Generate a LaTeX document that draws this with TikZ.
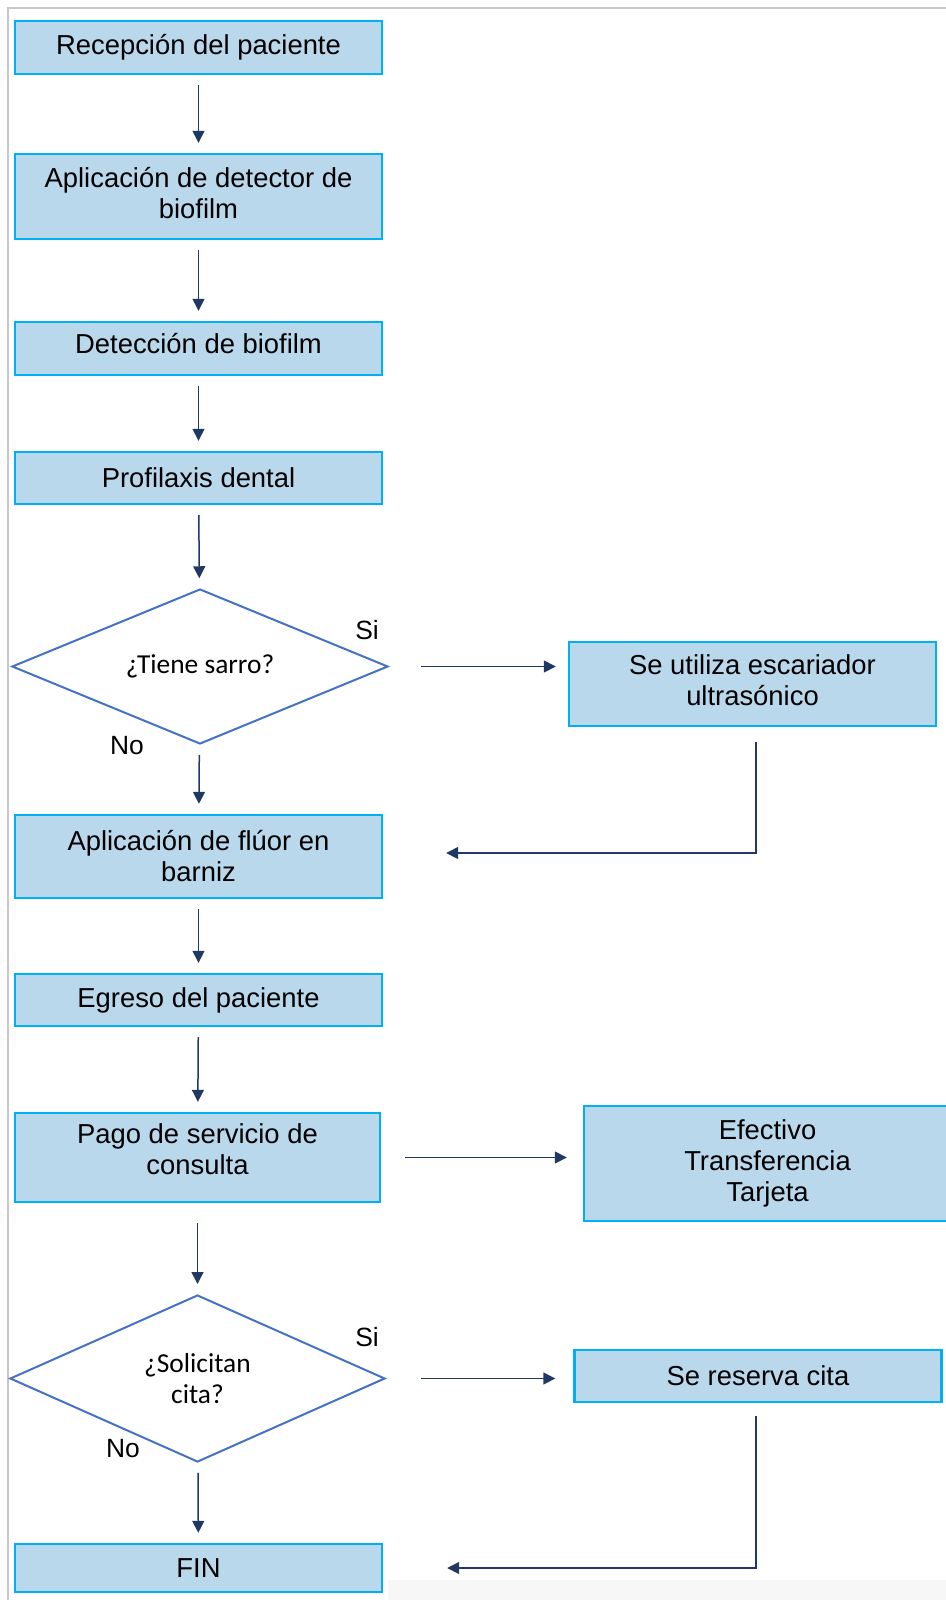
\documentclass[tikz,border=0pt]{standalone}
\usepackage{fontspec}
\setmainfont{Liberation Sans}
\newfontfamily\calibri{Carlito}
\usetikzlibrary{shapes.geometric,arrows.meta}

\definecolor{cajafondo}{RGB}{186,216,236}
\definecolor{cajaborde}{RGB}{0,176,240}
\definecolor{rombo}{RGB}{68,114,196}
\definecolor{azulflecha}{RGB}{31,56,100}
\definecolor{marco}{RGB}{200,200,200}

\begin{document}
\begin{tikzpicture}[x=0.5pt, y=-0.5pt,
    caja/.style={rectangle, fill=cajafondo, draw=cajaborde, line width=1.2pt,
      minimum width=183.5pt, inner sep=0pt, align=center,
      font=\fontsize{13.7}{15.5}\selectfont},
    decision/.style={diamond, aspect=2.4, draw=rombo, line width=1pt, inner sep=0pt,
      align=center, font=\calibri\fontsize{13.7}{15.3}\selectfont},
    etiqueta/.style={font=\fontsize{13.2}{15}\selectfont},
    conector/.style={draw=azulflecha, line width=0.75pt,
      -{Triangle[length=6pt, width=6pt]}, shorten <=5pt, shorten >=5pt}]

  \useasboundingbox (0,0) rectangle (946,1600);
  % marco de la captura
  \fill[black!3] (388,1580) rectangle (946,1600);
  \draw[marco, line width=1pt] (8,1600) -- (8,8) -- (946,8);

  % columna principal
  \node[caja, minimum height=26.5pt] (recepcion)  at (198.5,47.5)  {Recepción del paciente};
  \node[caja, minimum height=42.5pt, text depth=4pt] (detector) at (198.5,196.5) {Aplicación de detector de\\biofilm};
  \node[caja, minimum height=26.5pt, text depth=5pt] (deteccion)  at (198.5,348.5) {Detección de biofilm};
  \node[caja, minimum height=26pt]   (profilaxis) at (198.5,478)   {Profilaxis dental};

  \node[decision, minimum width=188pt, minimum height=77.5pt] (sarro) at (200,666.5) {¿Tiene sarro?};

  \node[caja, minimum height=41.5pt] (fluor)  at (198.5,856.5)  {Aplicación de flúor en\\barniz};
  \node[caja, minimum height=26pt]   (egreso) at (198.5,1000)   {Egreso del paciente};
  \node[caja, minimum width=182.5pt, minimum height=44.5pt, text depth=8pt] (pago) at (197.5,1157.5) {Pago de servicio de\\consulta};

  \node[decision, minimum width=187.5pt, minimum height=83.5pt] (cita) at (197.5,1378.5) {¿Solicitan\\cita?};

  \node[caja, minimum height=24pt] (fin) at (198.5,1568) {FIN};

  % columna derecha
  \node[caja, minimum height=42pt, text depth=4pt] (escariador) at (752.5,684) {Se utiliza escariador\\ultrasónico};
  \node[caja, minimum height=57.5pt] (formas)     at (767.5,1163.5) {Efectivo\\Transferencia\\Tarjeta};
  \node[caja, minimum height=26pt]   (reserva)    at (758,1376)     {Se reserva cita};

  % etiquetas de las decisiones
  \node[etiqueta] (si1) at (367,630)  {Si};
  \node[etiqueta] (no1) at (127,746)  {No};
  \node[etiqueta] (si2) at (367,1337) {Si};
  \node[etiqueta] (no2) at (123,1449) {No};

  \draw[conector] (recepcion) -- (detector);
  \draw[conector] (detector) -- (deteccion);
  \draw[conector] (deteccion) -- (profilaxis);
  \draw[conector] (profilaxis) -- (sarro);
  \draw[conector] (sarro) -- (fluor);
  \draw[conector] (fluor) -- (egreso);
  \draw[conector] (egreso) -- (pago);
  \draw[conector, shorten <=10pt] (pago) -- (cita);
  \draw[conector] (cita) -- (fin);

  \draw[conector, shorten <=16pt, shorten >=6pt] (sarro.east) -- (sarro.east -| escariador.west);
  \draw[conector, shorten <=7.5pt, shorten >=31.5pt] ([xshift=1.75pt]escariador.south) |- ([yshift=1.75pt]fluor.east);

  \draw[conector, shorten <=12pt, shorten >=8pt] (pago.east) -- (pago.east -| formas.west);

  \draw[conector, shorten <=17.5pt, shorten >=9pt] (cita.east) -- (cita.east -| reserva.west);
  \draw[conector, shorten <=6.5pt, shorten >=32pt] ([xshift=-1pt]reserva.south) |- (fin.east);
\end{tikzpicture}
\end{document}
